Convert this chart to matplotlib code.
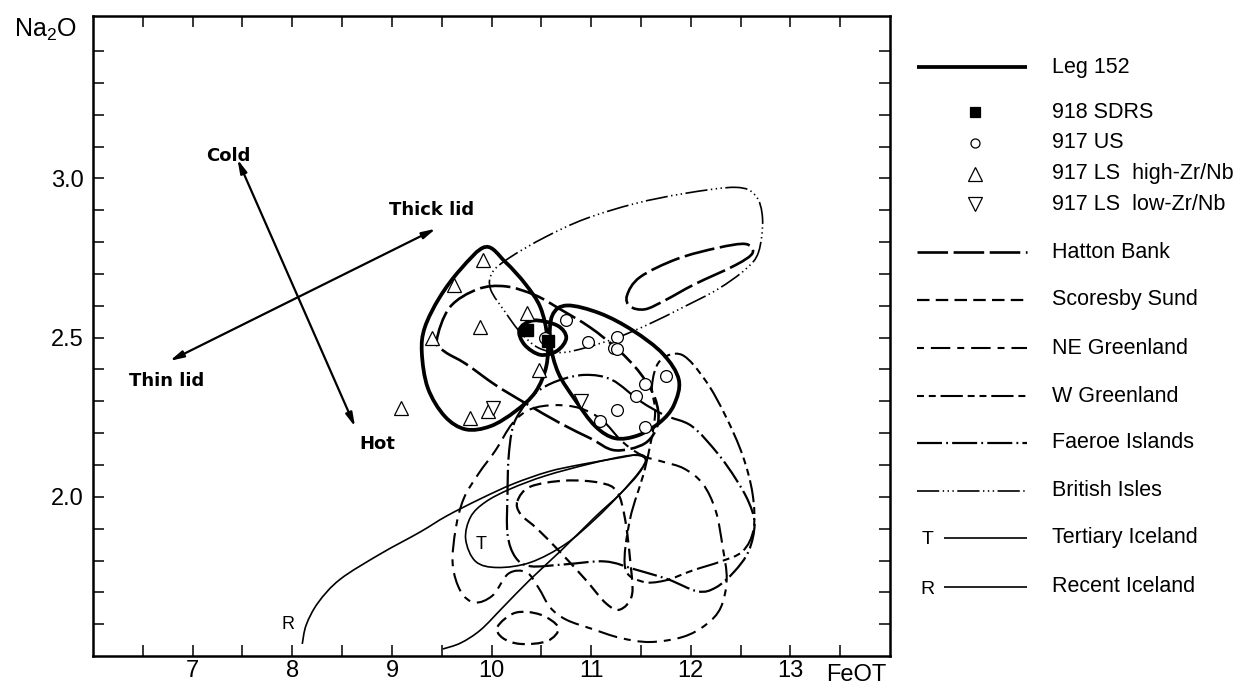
import numpy as np
import matplotlib
matplotlib.use("Agg")
import matplotlib.pyplot as plt
from matplotlib.path import Path
from matplotlib.patches import PathPatch

plt.rcParams['font.family'] = ['Liberation Sans', 'DejaVu Sans']
plt.rcParams['mathtext.default'] = 'regular'
plt.rcParams['lines.scale_dashes'] = False

# ---- sample points (FeOT, Na2O) ----
sdrs_x = [10.36, 10.57]
sdrs_y = [2.525, 2.49]

us_x = [10.75, 10.97, 11.26, 11.23, 11.26, 11.75, 11.54, 11.45, 11.26, 11.09, 11.54, 10.54]
us_y = [2.554, 2.487, 2.503, 2.468, 2.465, 2.38, 2.354, 2.316, 2.272, 2.237, 2.22, 2.50]

ls_high_x = [9.91, 9.62, 9.88, 9.40, 10.36, 10.48, 9.78, 9.96, 9.09]
ls_high_y = [2.744, 2.665, 2.532, 2.50, 2.576, 2.399, 2.247, 2.269, 2.278]

ls_low_x = [10.01, 10.90]
ls_low_y = [2.278, 2.30]

# ---- field outlines ----
leg_a_x = [9.94, 9.69, 9.48, 9.33, 9.30, 9.36, 9.53, 9.74, 9.99, 10.24, 10.44, 10.55, 10.56, 10.49, 10.34, 10.14]
leg_a_y = [2.785, 2.715, 2.627, 2.532, 2.453, 2.342, 2.253, 2.212, 2.222, 2.269, 2.329, 2.411, 2.500, 2.595, 2.668, 2.737]
leg_b_x = [10.28, 10.42, 10.66, 10.75, 10.66, 10.49, 10.33]
leg_b_y = [2.525, 2.554, 2.538, 2.500, 2.459, 2.446, 2.478]
leg_c_x = [10.61, 10.76, 11.09, 11.42, 11.72, 11.88, 11.83, 11.69, 11.47, 11.24, 11.04, 10.84, 10.67, 10.59]
leg_c_y = [2.570, 2.601, 2.576, 2.522, 2.449, 2.367, 2.288, 2.234, 2.193, 2.184, 2.222, 2.304, 2.389, 2.484]

hatton_a_x = [11.36, 11.49, 11.86, 12.27, 12.55, 12.62, 12.45, 12.04, 11.74, 11.54, 11.39]
hatton_a_y = [2.633, 2.690, 2.747, 2.782, 2.794, 2.766, 2.728, 2.668, 2.617, 2.589, 2.598]
hatton_b_x = [9.45, 9.58, 9.86, 10.14, 10.44, 10.69, 10.99, 11.27, 11.49, 11.64, 11.67, 11.54, 11.24,
              10.99, 10.69, 10.34, 10.04, 9.74, 9.53]
hatton_b_y = [2.491, 2.595, 2.652, 2.661, 2.633, 2.589, 2.532, 2.462, 2.389, 2.310, 2.231, 2.168, 2.146,
              2.184, 2.231, 2.294, 2.351, 2.418, 2.456]

scoresby_a_x = [10.06, 10.24, 10.49, 10.67, 10.56, 10.29, 10.11]
scoresby_a_y = [1.592, 1.636, 1.630, 1.589, 1.547, 1.538, 1.557]
scoresby_b_x = [10.26, 10.39, 10.74, 11.09, 11.26, 11.34, 11.39, 11.41, 11.29, 11.15, 10.94, 10.69, 10.46, 10.29]
scoresby_b_y = [1.987, 2.032, 2.051, 2.044, 2.016, 1.930, 1.804, 1.693, 1.646, 1.665, 1.741, 1.826, 1.899, 1.946]

ne_x = [10.04, 10.21, 10.39, 10.64, 10.89, 11.11, 11.31, 11.51, 11.71, 11.93, 12.12, 12.25, 12.32, 12.36,
        12.30, 12.15, 11.92, 11.59, 11.29, 11.01, 10.75, 10.59, 10.47, 10.35, 10.17, 10.01, 9.83, 9.69,
        9.61, 9.64, 9.72, 9.87]
ne_y = [2.146, 2.231, 2.275, 2.288, 2.278, 2.241, 2.174, 2.130, 2.111, 2.089, 2.041, 1.956, 1.842, 1.741,
        1.652, 1.598, 1.560, 1.544, 1.557, 1.585, 1.614, 1.652, 1.715, 1.763, 1.759, 1.690, 1.668, 1.703,
        1.788, 1.899, 1.994, 2.073]

w_x = [11.64, 11.61, 11.69, 11.91, 12.15, 12.35, 12.52, 12.62, 12.63, 12.52, 12.30, 12.02, 11.74, 11.51,
       11.34, 11.39, 11.54]
w_y = [2.253, 2.348, 2.427, 2.446, 2.364, 2.253, 2.130, 2.009, 1.899, 1.829, 1.797, 1.769, 1.737, 1.734,
       1.778, 1.930, 2.089]

faeroe_x = [10.29, 10.44, 10.66, 10.94, 11.21, 11.49, 11.74, 12.01, 12.27, 12.45, 12.58, 12.64, 12.58,
            12.43, 12.25, 12.07, 11.77, 11.44, 11.14, 10.74, 10.39, 10.24, 10.16, 10.16, 10.17, 10.21]
faeroe_y = [2.269, 2.326, 2.364, 2.383, 2.367, 2.301, 2.256, 2.222, 2.136, 2.057, 1.984, 1.915, 1.829,
            1.763, 1.715, 1.703, 1.741, 1.772, 1.797, 1.788, 1.782, 1.810, 1.883, 2.009, 2.120, 2.215]

british_x = [10.29, 10.14, 9.99, 10.01, 10.19, 10.54, 10.94, 11.44, 11.94, 12.45, 12.65, 12.72, 12.68,
             12.55, 12.27, 11.92, 11.59, 11.26, 10.94, 10.69, 10.47]
british_y = [2.516, 2.579, 2.652, 2.706, 2.753, 2.816, 2.873, 2.921, 2.953, 2.972, 2.946, 2.873, 2.769,
             2.715, 2.652, 2.595, 2.544, 2.500, 2.468, 2.453, 2.468]

tert_x = [9.74, 9.79, 9.94, 10.19, 10.54, 10.99, 11.39, 11.54, 11.49, 11.29, 11.04, 10.74, 10.39, 10.06, 9.84]
tert_y = [1.867, 1.937, 1.984, 2.025, 2.066, 2.104, 2.130, 2.120, 2.082, 2.009, 1.930, 1.851, 1.794, 1.778, 1.797]

recent_x = [8.10, 8.14, 8.26, 8.48, 8.88, 9.28, 9.55, 9.89, 10.22, 10.57, 10.89, 11.29, 11.49, 11.55,
            11.47, 11.29, 11.04, 10.71, 10.39, 10.12, 9.89, 9.69, 9.51]
recent_y = [1.538, 1.598, 1.668, 1.741, 1.820, 1.889, 1.940, 1.994, 2.041, 2.079, 2.101, 2.123, 2.133,
            2.114, 2.070, 2.009, 1.937, 1.835, 1.741, 1.655, 1.582, 1.541, 1.522]

# trend arrows
cold_end = (7.45, 3.06)
hot_end = (8.63, 2.22)
thin_end = (6.77, 2.427)
thick_end = (9.44, 2.842)

x_ticks = [7, 8, 9, 10, 11, 12, 13]
y_ticks = [2.0, 2.5, 3.0]
y_ticklabels = ['2.0', '2.5', '3.0']

# line styles (dash lengths in points)
st_leg = dict(lw=2.7, ls='-')
st_hatton = dict(lw=1.9, ls=(0, (22, 4)))
st_scoresby = dict(lw=1.6, ls=(0, (9, 4.5)))
st_ne = dict(lw=1.5, ls=(0, (5, 5, 14, 5)))
st_w = dict(lw=1.5, ls=(0, (5, 3.5, 5, 3.5, 16, 3.5)))
st_faeroe = dict(lw=1.6, ls=(0, (18, 3, 1.3, 3)))
st_british = dict(lw=1.2, ls=(0, (16, 2.5, 1, 2.5, 1, 2.5, 1, 2.5)))
st_ice = dict(lw=1.2, ls='-')


def smooth(xs, ys, closed=True):
    p = np.column_stack([xs, ys]).astype(float)
    n = len(p)
    verts = [p[0]]
    codes = [Path.MOVETO]
    nseg = n if closed else n - 1
    for i in range(nseg):
        if closed:
            p0, p1, p2, p3 = p[(i - 1) % n], p[i], p[(i + 1) % n], p[(i + 2) % n]
        else:
            p0, p1, p2, p3 = p[max(i - 1, 0)], p[i], p[i + 1], p[min(i + 2, n - 1)]
        verts += [p1 + (p2 - p0) / 6.0, p2 - (p3 - p1) / 6.0, p2]
        codes += [Path.CURVE4] * 3
    return Path(verts, codes)


def outline(ax, xs, ys, style, closed=True):
    patch = PathPatch(smooth(xs, ys, closed), fill=False, edgecolor='black',
                      linewidth=style['lw'], linestyle=style['ls'], capstyle='butt', zorder=2)
    ax.add_patch(patch)


fig = plt.figure(figsize=(12.44, 6.86), dpi=100)
ax = fig.add_axes([0.0748, 0.0437, 0.6407, 0.9329])

outline(ax, british_x, british_y, st_british)
outline(ax, hatton_a_x, hatton_a_y, st_hatton)
outline(ax, hatton_b_x, hatton_b_y, st_hatton)
outline(ax, scoresby_a_x, scoresby_a_y, st_scoresby)
outline(ax, scoresby_b_x, scoresby_b_y, st_scoresby)
outline(ax, ne_x, ne_y, st_ne)
outline(ax, w_x, w_y, st_w)
outline(ax, faeroe_x, faeroe_y, st_faeroe)
outline(ax, tert_x, tert_y, st_ice)
outline(ax, recent_x, recent_y, st_ice, closed=False)
outline(ax, leg_a_x, leg_a_y, st_leg)
outline(ax, leg_b_x, leg_b_y, st_leg)
outline(ax, leg_c_x, leg_c_y, st_leg)

ax.plot(us_x, us_y, 'o', ms=8.5, mfc='white', mec='black', mew=0.9, zorder=4)
ax.plot(ls_high_x, ls_high_y, '^', ms=10, mfc='white', mec='black', mew=0.9, zorder=4)
ax.plot(ls_low_x, ls_low_y, 'v', ms=10, mfc='white', mec='black', mew=0.9, zorder=4)
ax.plot(sdrs_x, sdrs_y, 's', ms=8, mfc='black', mec='black', zorder=5)

arrow = dict(arrowstyle='<|-|>,head_length=0.8,head_width=0.2', lw=1.6, color='black',
             shrinkA=0, shrinkB=0)
ax.annotate('', xy=cold_end, xytext=hot_end, arrowprops=arrow)
ax.annotate('', xy=thick_end, xytext=thin_end, arrowprops=arrow)

bold = dict(fontsize=13, fontweight='bold', family='DejaVu Sans', ha='center', va='center')
ax.text(7.36, 3.07, 'Cold', **bold)
ax.text(8.85, 2.165, 'Hot', **bold)
ax.text(9.40, 2.90, 'Thick lid', **bold)
ax.text(6.74, 2.365, 'Thin lid', **bold)
ax.text(9.89, 1.85, 'T', fontsize=13, ha='center', va='center')
ax.text(7.96, 1.60, 'R', fontsize=13, ha='center', va='center')

ax.set_xlim(6, 14)
ax.set_ylim(1.5, 3.51)
ax.set_xticks(x_ticks)
ax.set_xticklabels([str(v) for v in x_ticks])
ax.set_xticks(np.arange(6.5, 14, 1.0), minor=True)
ax.set_yticks(y_ticks)
ax.set_yticklabels(y_ticklabels)
ax.set_yticks([v / 10 for v in range(16, 35) if v % 5 != 0], minor=True)
ax.tick_params(which='both', direction='in', length=8, width=1.1, top=True, right=True,
               labelsize=17)
ax.tick_params(axis='x', pad=3)
ax.tick_params(axis='y', pad=7)
for s in ax.spines.values():
    s.set_linewidth(1.8)

ax.text(-0.06, 0.978, 'Na$_2$O', transform=ax.transAxes, fontsize=18, ha='center', va='center')
ax.text(13.66, -0.029, 'FeOT', transform=ax.get_xaxis_transform(), fontsize=17,
        ha='center', va='center')

# ---- legend panel ----
lg = fig.add_axes([0.725, 0, 0.275, 1])
lg.set_xlim(902, 1244)
lg.set_ylim(686, 0)
lg.axis('off')

legend_names = ['Leg 152', '918 SDRS', '917 US', '917 LS  high-Zr/Nb', '917 LS  low-Zr/Nb',
                'Hatton Bank', 'Scoresby Sund', 'NE Greenland', 'W Greenland', 'Faeroe Islands',
                'British Isles', 'Tertiary Iceland', 'Recent Iceland']
row_y = [67, 112, 143, 174, 204, 252, 300, 348, 396, 443, 491, 538, 587]
line_rows = {0: st_leg, 5: st_hatton, 6: st_scoresby, 7: st_ne, 8: st_w, 9: st_faeroe,
             10: st_british, 11: st_ice, 12: st_ice}
marker_rows = {1: ('s', 'black', 7), 2: ('o', 'white', 6.5), 3: ('^', 'white', 9.5),
               4: ('v', 'white', 9.5)}

for i, name in enumerate(legend_names):
    y = row_y[i]
    lg.text(1052, y, name, fontsize=15.5, ha='left', va='center')
    if i in line_rows:
        st = line_rows[i]
        x0 = 944 if i >= 11 else 917
        lg.plot([x0, 1027], [y, y], color='black', lw=st['lw'], ls=st['ls'],
                solid_capstyle='butt', dash_capstyle='butt')
    if i in marker_rows:
        m, fc, ms = marker_rows[i]
        lg.plot([975], [y], m, ms=ms, mfc=fc, mec='black', mew=0.9)

lg.text(928, 540, 'T', fontsize=14, ha='center', va='center')
lg.text(928, 589, 'R', fontsize=14, ha='center', va='center')

fig.savefig('out.png', dpi=100)
